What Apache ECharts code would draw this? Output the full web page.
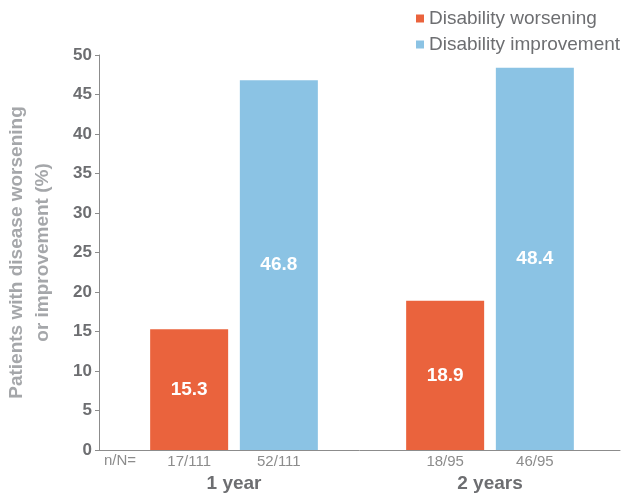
<!DOCTYPE html>
<html>
<head>
<meta charset="utf-8">
<script src="https://cdn.jsdelivr.net/npm/echarts@6/dist/echarts.min.js"></script>
<style>html,body{margin:0;padding:0;background:#fff}#c{width:624px;height:493px}</style>
</head>
<body>
<div id="c"></div>
<script>
var categories = ['1 year', '2 years'];
var worsening = [15.3, 18.9];
var improvement = [46.8, 48.4];
var worseningNN = ['17/111', '18/95'];
var improvementNN = ['52/111', '46/95'];
var yTicks = [0, 5, 10, 15, 20, 25, 30, 35, 40, 45, 50];

var FONT = '"Liberation Sans", Arial, sans-serif';
var chart = echarts.init(document.getElementById('c'), null, {renderer: 'canvas'});
var valueLabel = {show: true, position: 'inside', color: '#fff', fontWeight: 'bold', fontSize: 19, fontFamily: FONT};
function nnLabel(arr) {
  return {show: true, position: 'bottom', distance: 4, color: '#8c8c8c', fontSize: 15, fontFamily: FONT,
    formatter: function (p) { return arr[p.dataIndex]; }};
}
chart.setOption({
  animation: false,
  textStyle: {fontFamily: FONT},
  legend: {
    orient: 'vertical', left: 411, top: 4, itemWidth: 8, itemHeight: 8, itemGap: 7,
    icon: 'rect',
    textStyle: {color: '#6d6e71', fontSize: 19, fontFamily: FONT},
    data: ['Disability worsening', 'Disability improvement']
  },
  grid: [
    {left: 106, right: 6, top: 55, bottom: 43, outerBoundsMode: 'none', containLabel: false},
    {left: 99, right: 4, top: 55, bottom: 43, outerBoundsMode: 'none', containLabel: false}
  ],
  xAxis: [
    {type: 'category', gridIndex: 0, data: categories,
      axisLine: {show: false}, axisTick: {show: false},
      axisLabel: {margin: 24, color: '#6d6e71', fontWeight: 'bold', fontSize: 19, fontFamily: FONT}},
    {type: 'category', gridIndex: 0, data: categories, show: false},
    {type: 'category', gridIndex: 1, data: categories,
      axisLine: {show: true, lineStyle: {color: '#8c8c8c', width: 1}},
      axisTick: {show: false}, axisLabel: {show: false}}
  ],
  yAxis: [
    {type: 'value', gridIndex: 0, min: 0, max: 50, interval: 5, show: false},
    {type: 'value', gridIndex: 1, min: 0, max: 50, interval: 5,
      name: 'Patients with disease worsening\nor improvement (%)',
      nameLocation: 'middle', nameGap: 43,
      nameTextStyle: {color: '#a5a7aa', fontWeight: 'bold', fontSize: 19, lineHeight: 26, fontFamily: FONT},
      axisLine: {show: true, lineStyle: {color: '#8c8c8c'}},
      axisTick: {show: true, length: 4, lineStyle: {color: '#8c8c8c'}},
      splitLine: {show: false},
      axisLabel: {margin: 7, color: '#6d6e71', fontWeight: 'bold', fontSize: 17, fontFamily: FONT,
        formatter: function (v) { return yTicks.indexOf(v) >= 0 ? String(v) : ''; }}}
  ],
  series: [
    {name: 'Disability worsening', type: 'bar', xAxisIndex: 0, yAxisIndex: 0, data: worsening,
      barWidth: 78, barGap: '15%', itemStyle: {color: '#ea633d'}, label: valueLabel},
    {name: 'Disability improvement', type: 'bar', xAxisIndex: 0, yAxisIndex: 0, data: improvement,
      barWidth: 78, barGap: '15%', itemStyle: {color: '#8bc3e4'}, label: valueLabel},
    {name: 'nn1', type: 'bar', xAxisIndex: 1, yAxisIndex: 0, data: worsening.map(function(){return 0;}),
      barWidth: 78, barGap: '15%', itemStyle: {color: 'rgba(0,0,0,0)'}, label: nnLabel(worseningNN), silent: true},
    {name: 'nn2', type: 'bar', xAxisIndex: 1, yAxisIndex: 0, data: improvement.map(function(){return 0;}),
      barWidth: 78, barGap: '15%', itemStyle: {color: 'rgba(0,0,0,0)'}, label: nnLabel(improvementNN), silent: true}
  ],
  graphic: [
    {type: 'text', left: 104, top: 453, style: {text: 'n/N=', fill: '#8c8c8c', font: '15px ' + FONT}}
  ]
});
</script>
</body>
</html>
